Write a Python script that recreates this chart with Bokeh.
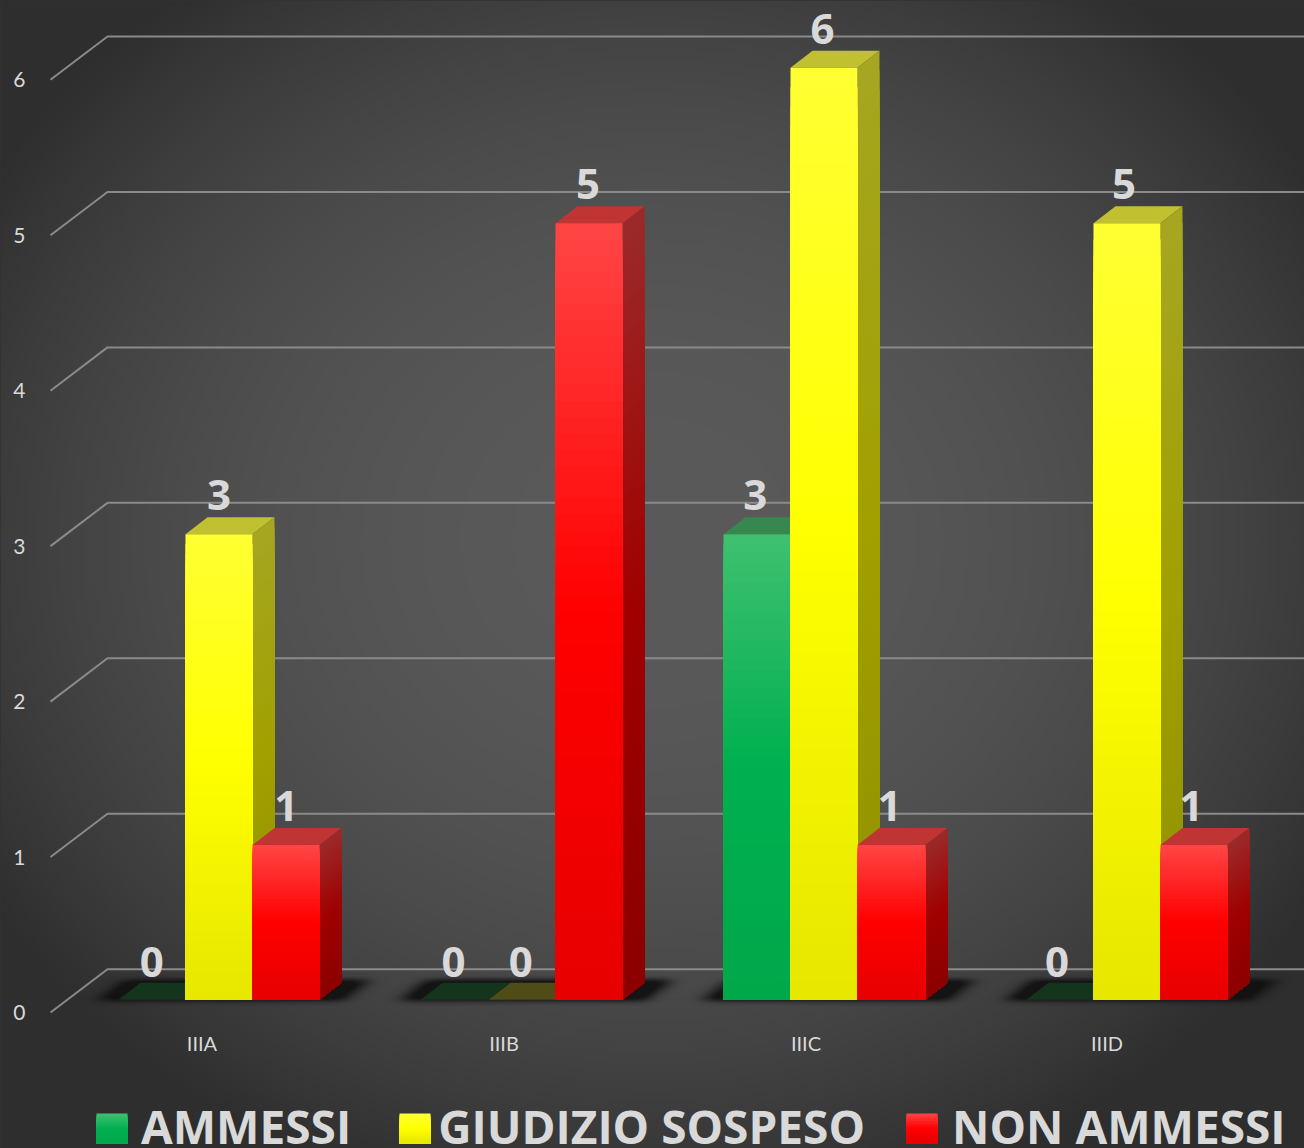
import numpy as np
from bokeh.core.properties import value
from bokeh.embed import file_html
from bokeh.models import ColumnDataSource, FixedTicker, Legend, LegendItem, Range1d
from bokeh.plotting import figure
from bokeh.resources import INLINE

categories = ["IIIA", "IIIB", "IIIC", "IIID"]
ammessi = [0, 0, 3, 0]
giudizio_sospeso = [3, 0, 6, 5]
non_ammessi = [1, 5, 1, 1]
y_ticks = [0, 1, 2, 3, 4, 5, 6]
series_names = ["AMMESSI", "GIUDIZIO SOSPESO", "NON AMMESSI"]

W, H = 1304, 1148
FONT = "Lato"
BOLD_FONT = "Open Sans"
TXT = "#d9d9d9"
PX_X0, PX_PER_CAT = 218.5, 302.67
PX_Y0, PX_PER_VAL = 1012.0, 155.45


def xu(px):
    return (px - PX_X0) / PX_PER_CAT


def yu(px):
    return (PX_Y0 - px) / PX_PER_VAL


def snap(x):
    """Put a category-unit x on a whole pixel, so stacked bands keep a crisp edge."""
    return xu(round(PX_X0 + x * PX_PER_CAT))


SLOT = 67.2 / PX_PER_CAT
DX = 22 / PX_PER_CAT
DY = 17.0 / PX_PER_VAL
BASE = yu(1000.0)      # where value 0 of the bars' tops would fall
FLOOR = yu(999.3)      # the bars' front foot

p = figure(width=W, height=H, output_backend="svg", toolbar_location=None,
           x_range=Range1d(xu(0), xu(W)), y_range=Range1d(yu(H), yu(0)),
           min_border=0, min_border_left=0, min_border_right=0, min_border_top=0, min_border_bottom=0,
           outline_line_color=None, background_fill_color="#333333", border_fill_color="#333333")
p.grid.visible = False


def mix(stops, t):
    for (t0, c0), (t1, c1) in zip(stops, stops[1:]):
        if t <= t1:
            f = (t - t0) / (t1 - t0)
            rgb = [round(int(c0[i:i + 2], 16) * (1 - f) + int(c1[i:i + 2], 16) * f) for i in (1, 3, 5)]
            return "#%02x%02x%02x" % tuple(rgb)
    return stops[-1][1]


# radial page background
gw, gh = 652, 574
gx, gy = np.meshgrid((np.arange(gw) + .5) / gw * 2 - 1, (np.arange(gh) + .5) / gh * 2 - 1)
r = np.sqrt(gx ** 2 + (gy[::-1] + 0.06) ** 2)
grey = 0x5a - (0x5a - 0x2e) * np.clip(r / 1.2, 0, 1) ** 2.2
grey = grey.astype(np.uint32)
bg = (255 << 24) | (grey << 16) | (grey << 8) | grey
p.image_rgba(image=[bg.astype(np.uint32)], x=xu(0), y=yu(H), dw=xu(W) - xu(0), dh=yu(0) - yu(H), level="image")

# wall grid lines
wall_dx = 57 / PX_PER_CAT
wall_dy = 43.3 / PX_PER_VAL
p.multi_line(xs=[[xu(50), xu(50) + wall_dx, xu(W)] for _ in y_ticks],
             ys=[[v, v + wall_dy, v + wall_dy] for v in y_ticks],
             line_color="#8a8a8a", line_width=2)


# soft floor shadow: a blurred parallelogram under each group of bars
def blur(a, sigma, axis):
    k = np.exp(-0.5 * (np.arange(-int(4 * sigma), int(4 * sigma) + 1) / sigma) ** 2)
    k /= k.sum()
    return np.apply_along_axis(lambda m: np.convolve(m, k, mode="same"), axis, a)


sw, sh = 400, 70       # shadow tile, pixels
sxx, syy = np.meshgrid(np.arange(sw) + .5, np.arange(sh) + .5)
group_w = 3 * SLOT * PX_PER_CAT
# tile origin: 60 px left of the group's front-left foot, 42 px above its front edge
t = (42 - syy) / 17.0                          # 0 at the front edge, 1 at the back edge
mask = ((t >= -0.05) & (t <= 1.15) &
        (sxx >= 60 - 20 + 22 * t) & (sxx <= 60 + group_w + 24 + 22 * t)).astype(float)
mask = blur(blur(mask, 8.0, 1), 2.6, 0)
alpha = (np.clip(mask * 1.25, 0, 1) * 235).astype(np.uint32)
tile = ((alpha << 24) | (0x10 << 16) | (0x10 << 8) | 0x10).astype(np.uint32)[::-1]
vals = [ammessi, giudizio_sospeso, non_ammessi]
for i in range(len(categories)):
    p.image_rgba(image=[tile], x=i - 1.5 * SLOT - 60 / PX_PER_CAT, y=FLOOR - (sh - 42) / PX_PER_VAL,
                 dw=sw / PX_PER_CAT, dh=sh / PX_PER_VAL)

STYLES = [
    dict(front=[(0, "#40c070"), (.5, "#00b050"), (1, "#00a84a")],
         side=[(0, "#2f8a50"), (.5, "#007a38"), (1, "#006c30")],
         top="#36884e", flat="#14351c"),
    dict(front=[(0, "#ffff33"), (.5, "#ffff00"), (1, "#e6e600")],
         side=[(0, "#a6a622"), (.5, "#a0a000"), (1, "#909000")],
         top="#c0c030", flat="#4f4c18"),
    dict(front=[(0, "#ff4545"), (.5, "#ff0000"), (1, "#e60000")],
         side=[(0, "#9c2a2a"), (.5, "#a00000"), (1, "#8c0000")],
         top="#c03434", flat="#4a1414"),
]
N_BANDS = 48
for s, (series, st) in enumerate(zip(vals, STYLES)):
    fl, fr, ft, fb, fc = [], [], [], [], []
    px, py, pc = [], [], []
    tx, ty, tc = [], [], []
    for i, v in enumerate(series):
        x0 = snap(i + (s - 1) * SLOT - SLOT / 2)
        x1 = snap(i + (s - 1) * SLOT + SLOT / 2)
        top = BASE + v if v > 0 else FLOOR
        tx.append([x0, x1, x1 + DX, x0 + DX])
        ty.append([top, top, top + DY, top + DY])
        tc.append(st["top"] if v > 0 else st["flat"])
        if v <= 0:
            continue
        for b in range(N_BANDS):
            t_ = b / N_BANDS
            yb = top - t_ * (top - FLOOR)
            fl.append(x0); fr.append(x1); ft.append(yb); fb.append(FLOOR); fc.append(mix(st["front"], t_ + .5 / N_BANDS))
            px.append([x1, x1 + DX, x1 + DX, x1])
            py.append([yb, yb + DY, FLOOR + DY, FLOOR])
            pc.append(mix(st["side"], t_ + .5 / N_BANDS))
    p.patches(tx, ty, fill_color=tc, line_color=None)
    if px:
        p.patches(px, py, fill_color=pc, line_color=None)
    p.quad(source=ColumnDataSource(dict(left=fl, right=fr, top=ft, bottom=fb, c=fc)),
           left="left", right="right", top="top", bottom="bottom", fill_color="c", line_color=None)

# value labels
label_shrink = 301.7 / PX_PER_CAT
lx, ly, lt = [], [], []
for s, series in enumerate(vals):
    for i, v in enumerate(series):
        lx.append(i * label_shrink + (s - 1) * SLOT)
        ly.append(BASE + v)
        lt.append(str(v))
p.text(lx, ly, text=lt, text_font=value(BOLD_FONT), text_font_style="bold", text_font_size="42px",
       text_color=TXT, text_align="center", text_baseline="middle", y_offset=-39)

# axes drawn inside the frame, taking no room
yax = p.yaxis[0]
yax.fixed_location = xu(31)
yax.ticker = FixedTicker(ticks=y_ticks)
xax = p.xaxis[0]
xax.fixed_location = yu(1024)
label_px = [201.5, 503.5, 805.5, 1106.5]
tick_pos = [round(xu(a), 4) for a in label_px]
xax.ticker = FixedTicker(ticks=tick_pos)
xax.major_label_overrides = {t_: c for t_, c in zip(tick_pos, categories)}
for ax in (xax, yax):
    ax.axis_line_color = None
    ax.major_tick_line_color = None
    ax.minor_tick_line_color = None
    ax.major_label_text_font = FONT
    ax.major_label_text_font_size = "20px"
    ax.major_label_text_color = TXT
    ax.major_label_standoff = 0
yax.major_label_text_font_size = "21px"

# gradient swatches; the legend's own glyphs stay transparent so only these show
swatch_px = [96, 399, 906]
ql, qr, qt, qb, qc = [], [], [], [], []
for sp, st in zip(swatch_px, STYLES):
    for b in range(16):
        t_ = b / 16
        ql.append(xu(sp)); qr.append(xu(sp + 31)); qt.append(yu(1113 + 30 * t_)); qb.append(yu(1143))
        qc.append(mix(st["front"], t_ + 1 / 32))
p.quad(left=ql, right=qr, top=qt, bottom=qb, fill_color=qc, line_color=None)
legend_keys = [p.quad(left=[], right=[], top=[], bottom=[], fill_alpha=0, line_alpha=0) for _ in series_names]

leg = Legend(items=[LegendItem(label=n, renderers=[r]) for n, r in zip(series_names, legend_keys)],
             orientation="horizontal", location=(99, -9), glyph_width=27, glyph_height=24,
             label_standoff=15, spacing=45, padding=0, margin=0, border_line_color=None,
             background_fill_alpha=0, label_text_font=BOLD_FONT, label_text_font_style="bold",
             label_text_font_size="46px", label_text_color=TXT, label_text_baseline="middle")
p.add_layout(leg, "center")

html = file_html(p, INLINE).replace("</head>", "<style>html,body{margin:0;padding:0;background:#333}</style></head>")
open("out.html", "w").write(html)
